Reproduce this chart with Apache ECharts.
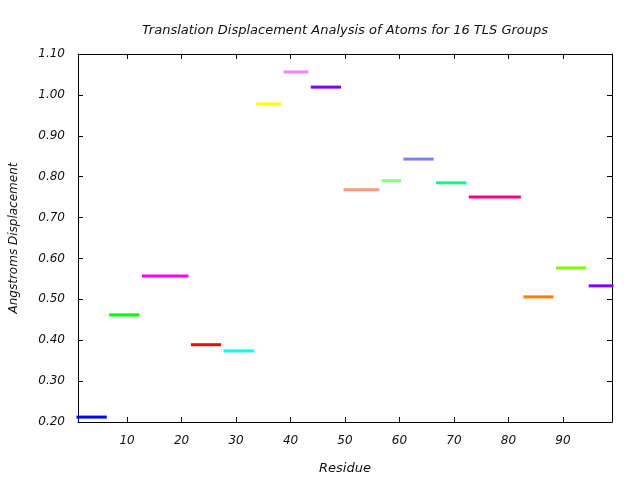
<!DOCTYPE html>
<html>
<head>
<meta charset="utf-8">
<script src="https://cdn.jsdelivr.net/npm/echarts@6/dist/echarts.min.js"></script>
<style>
  html, body { margin: 0; padding: 0; background: #fff; }
  #chart { width: 640px; height: 480px; }
</style>
</head>
<body>
<div id="chart"></div>
<script>
  // TLS groups: first and last residue, and mean displacement
  var groupStart = [1, 7, 13, 22, 28, 34, 39, 44, 50, 57, 61, 67, 73, 83, 89, 95];
  var groupEnd = [6, 12, 21, 27, 33, 38, 43, 49, 56, 60, 66, 72, 82, 88, 94, 99];
  var displacement = [0.212, 0.462, 0.557, 0.389, 0.374, 0.978, 1.056, 1.019,
    0.768, 0.790, 0.843, 0.785, 0.750, 0.506, 0.577, 0.533];
  var groupColors = ["#0000ff", "#00ff00", "#ff00ff", "#ff0000", "#00ffff", "#ffff00",
    "#ff80ff", "#8000ff", "#ff9980", "#80ff80", "#8080ff", "#00ff80", "#ff0080",
    "#ff8000", "#80ff00", "#8000ff"];
  var xTicks = [10, 20, 30, 40, 50, 60, 70, 80, 90];

  var font = "DejaVu Sans";
  var series = [];
  groupStart.map(function (s, i) {
    series.push({
      type: "line",
      symbol: "none",
      silent: true,
      clip: false,
      data: [[s, displacement[i]], [groupEnd[i], displacement[i]]],
      lineStyle: { color: groupColors[i], width: 3, cap: "square" },
    });
  });

  var chart = echarts.init(document.getElementById("chart"));
  var axisLine = { show: true, lineStyle: { color: "#000", width: 1 } };
  var option = {
    backgroundColor: "#fff",
    animation: false,
    title: {
      text: "Translation Displacement Analysis of Atoms for 16 TLS Groups",
      left: 340,
      top: 19,
      textAlign: "center",
      textStyle: { fontFamily: font, fontStyle: "italic", fontWeight: "normal", fontSize: 13, color: "#111" },
    },
    grid: { left: 76, right: 28, top: 54, bottom: 58, containLabel: false },
    xAxis: [
      {
        type: "value",
        min: 1,
        max: 99,
        position: "bottom",
        name: "Residue",
        nameLocation: "middle",
        nameGap: 40,
        nameTextStyle: { fontFamily: font, fontStyle: "italic", fontSize: 13, color: "#111" },
        axisLine: axisLine,
        axisTick: { show: true, inside: true, length: 5, customValues: xTicks, lineStyle: { color: "#000" } },
        axisLabel: { show: true, customValues: xTicks, margin: 13, fontFamily: font, fontStyle: "italic", fontSize: 12, color: "#111" },
        splitLine: { show: false },
      },
      {
        type: "value",
        min: 1,
        max: 99,
        position: "top",
        axisLine: axisLine,
        axisTick: { show: true, inside: true, length: 5, customValues: xTicks, lineStyle: { color: "#000" } },
        axisLabel: { show: false },
        splitLine: { show: false },
      },
    ],
    yAxis: [
      {
        type: "value",
        min: 0.2,
        max: 1.1,
        interval: 0.1,
        position: "left",
        name: "Angstroms Displacement",
        nameLocation: "middle",
        nameGap: 58,
        nameTextStyle: { fontFamily: font, fontStyle: "italic", fontSize: 12, color: "#111" },
        axisLine: axisLine,
        axisTick: { show: true, inside: true, length: 5, lineStyle: { color: "#000" } },
        axisLabel: {
          margin: 13,
          fontFamily: font,
          fontStyle: "italic",
          fontSize: 12,
          color: "#111",
          formatter: function (v) { return v.toFixed(2); },
        },
        splitLine: { show: false },
      },
      {
        type: "value",
        min: 0.2,
        max: 1.1,
        interval: 0.1,
        position: "right",
        axisLine: axisLine,
        axisTick: { show: true, inside: true, length: 5, lineStyle: { color: "#000" } },
        axisLabel: { show: false },
        splitLine: { show: false },
      },
    ],
    series: series,
  };
  chart.setOption(option);
</script>
</body>
</html>
